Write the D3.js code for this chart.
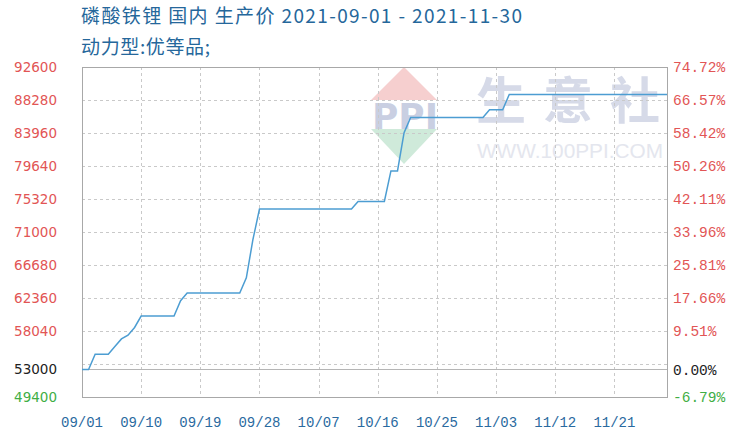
<!DOCTYPE html>
<html><head><meta charset="utf-8">
<script src="https://cdn.jsdelivr.net/npm/d3@7/dist/d3.min.js"></script>
<style>body{margin:0;background:#fff;} svg{display:block;}</style>
</head><body>
<svg id="chart" width="745" height="440"></svg>
<script>
// ---- data ----
const titleLine1 = "磷酸铁锂 国内 生产价 2021-09-01 - 2021-11-30";
const titleLine2 = "动力型:优等品;";
const startDate = "2021-09-01";
const endDate = "2021-11-29";
// daily price, one per day from 09/01
const prices = [
  53000, 53000, 55000, 55000, 55000, 56000, 57000, 57500, 58500, 60000,
  60000, 60000, 60000, 60000, 60000, 62000, 63000, 63000, 63000, 63000,
  63000, 63000, 63000, 63000, 63000, 65000, 70000, 74000, 74000, 74000,
  74000, 74000, 74000, 74000, 74000, 74000, 74000, 74000, 74000, 74000,
  74000, 74000, 75000, 75000, 75000, 75000, 75000, 79000, 79000, 84000,
  86000, 86000, 86000, 86000, 86000, 86000, 86000, 86000, 86000, 86000,
  86000, 86000, 87000, 87000, 87000, 89000, 89000, 89000, 89000, 89000,
  89000, 89000, 89000, 89000, 89000, 89000, 89000, 89000, 89000, 89000,
  89000, 89000, 89000, 89000, 89000, 89000, 89000, 89000, 89000, 89000
];
const xTickLabels = ["09/01","09/10","09/19","09/28","10/07","10/16","10/25","11/03","11/12","11/21"];
const yTicks = [92600, 88280, 83960, 79640, 75320, 71000, 66680, 62360, 58040, 53720, 49400];
const yLabelled = [92600, 88280, 83960, 79640, 75320, 71000, 66680, 62360, 58040, 49400];
const baseValue = 53000;

// ---- layout ----
const M = {left: 82, right: 667, top: 67, bottom: 397};
const svg = d3.select("#chart");
const parse = d3.timeParse("%Y-%m-%d");
const d0 = parse(startDate), d1 = parse(endDate);
const dates = d3.timeDay.range(d0, d3.timeDay.offset(d1, 1));
const data = prices.map((v, i) => ({date: dates[i], value: v}));

const x = d3.scaleTime().domain([d0, d1]).range([M.left, M.right]);
const y = d3.scaleLinear().domain([49400, 92600]).range([M.bottom, M.top]);
const tickDates = xTickLabels.map(s => parse("2021-" + s.replace("/", "-")));

// ---- watermark ----
const wm = svg.append("g");
const cx = 404;
wm.append("path")
  .attr("d", `M${cx},67 L${cx+33},100 L${cx-33},100 Z`)
  .attr("fill", "#f6cfcf");
wm.append("path")
  .attr("d", `M${cx-33},129 L${cx+33},129 L${cx},164 Z`)
  .attr("fill", "#cfeada");
wm.append("text").attr("x", 372).attr("y", 129)
  .attr("font-family", "DejaVu Sans, sans-serif").attr("font-weight", "bold").attr("font-size", 36)
  .attr("fill", "#c9cfe2").attr("textLength", 66).attr("lengthAdjust", "spacingAndGlyphs").text("PPI");
const wmChars = ["生", "意", "社"];
wm.selectAll("text.wmc").data(wmChars).join("text").attr("class", "wmc")
  .attr("x", (d, i) => 501 + i * 67).attr("y", 119).attr("text-anchor", "middle")
  .attr("font-family", "Noto Sans CJK SC").attr("font-weight", "bold").attr("font-size", 50)
  .attr("fill", "#d6dae8").text(d => d);
wm.append("text").attr("x", 477).attr("y", 158)
  .attr("font-family", "Liberation Sans, Arial").attr("font-size", 21)
  .attr("fill", "#e4e6ee").attr("textLength", 186).attr("lengthAdjust", "spacingAndGlyphs")
  .text("WWW.100PPI.COM");

// ---- grid ----
const grid = svg.append("g").attr("stroke", "#c9c9c9").attr("stroke-dasharray", "3,3").attr("stroke-width", 1);
grid.selectAll("line.h").data(yTicks.slice(1, -1)).join("line").attr("class", "h")
  .attr("x1", M.left).attr("x2", M.right)
  .attr("y1", d => Math.round(y(d)) + 0.5).attr("y2", d => Math.round(y(d)) + 0.5);
grid.selectAll("line.v").data(tickDates.slice(1)).join("line").attr("class", "v")
  .attr("y1", M.top).attr("y2", M.bottom)
  .attr("x1", d => Math.round(x(d)) + 0.5).attr("x2", d => Math.round(x(d)) + 0.5);

// base line
svg.append("line").attr("x1", M.left).attr("x2", M.right)
  .attr("y1", Math.round(y(baseValue)) + 0.5).attr("y2", Math.round(y(baseValue)) + 0.5)
  .attr("stroke", "#b5b5b5").attr("stroke-width", 1);

// frame
svg.append("rect").attr("x", M.left + 0.5).attr("y", M.top + 0.5)
  .attr("width", M.right - M.left).attr("height", M.bottom - M.top)
  .attr("fill", "none").attr("stroke", "#a8a8a8").attr("stroke-width", 1);

// ---- series ----
svg.append("path").datum(data)
  .attr("fill", "none").attr("stroke", "#4c9dd2").attr("stroke-width", 1.5)
  .attr("d", d3.line().x(d => x(d.date)).y(d => y(d.value)));

// ---- axes labels ----
const red = "#e25555", green = "#3fae45";
const colorFor = v => v > baseValue ? red : (v < baseValue ? green : "#222");
const leftVals = yLabelled.concat([baseValue]);
svg.selectAll("text.yl").data(leftVals).join("text").attr("class", "yl")
  .attr("x", 57).attr("y", d => y(d)).attr("dy", "0.36em").attr("text-anchor", "end")
  .attr("font-family", "DejaVu Sans").attr("font-size", 13.5)
  .attr("fill", colorFor).text(d => d);
svg.selectAll("text.yr").data(leftVals).join("text").attr("class", "yr")
  .attr("x", 673).attr("y", d => y(d)).attr("dy", "0.36em")
  .attr("font-family", "Liberation Mono, DejaVu Sans Mono, monospace").attr("font-size", 14.5)
  .attr("fill", colorFor).text(d => ((d / baseValue - 1) * 100).toFixed(2) + "%");
svg.selectAll("text.xl").data(tickDates).join("text").attr("class", "xl")
  .attr("x", d => x(d)).attr("y", 427).attr("text-anchor", "middle")
  .attr("font-family", "Liberation Mono, DejaVu Sans Mono, monospace").attr("font-size", 14)
  .attr("fill", "#2a6aa0").text((d, i) => xTickLabels[i]);

// ---- title ----
svg.append("text").attr("x", 81).attr("y", 23)
  .attr("font-family", "Noto Sans CJK SC").attr("font-size", 19).attr("fill", "#25679b")
  .attr("textLength", 441).attr("lengthAdjust", "spacing")
  .text(titleLine1);
svg.append("text").attr("x", 81).attr("y", 54)
  .attr("font-family", "Noto Sans CJK SC").attr("font-size", 19).attr("fill", "#25679b")
  .attr("textLength", 129).attr("lengthAdjust", "spacing")
  .text(titleLine2);
</script>
</body></html>
